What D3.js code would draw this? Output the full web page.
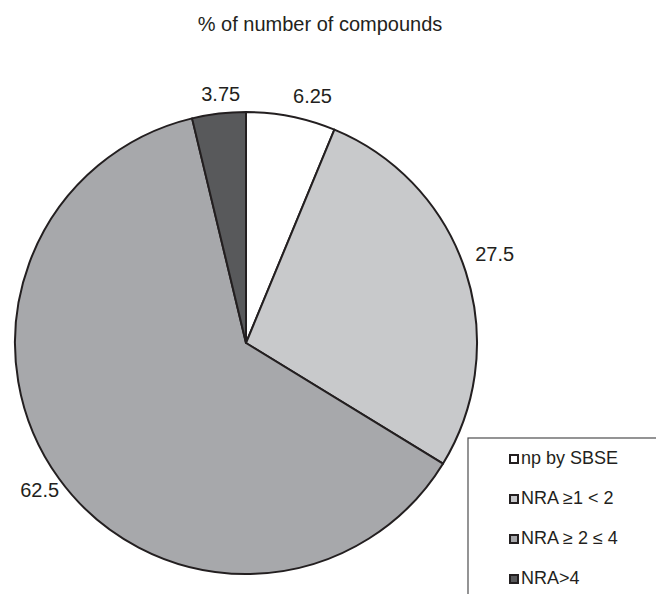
<!DOCTYPE html>
<html>
<head>
<meta charset="utf-8">
<script src="https://cdn.jsdelivr.net/npm/d3@7"></script>
<style>
  html, body { margin: 0; padding: 0; background: #fff; }
  svg { display: block; font-family: "Liberation Sans", Arial, Helvetica, sans-serif; }
</style>
</head>
<body>
<svg id="chart" width="656" height="594"></svg>
<script>
// Share of compounds (%) per NRA class
const categories = ["np by SBSE", "NRA \u22651 < 2", "NRA \u2265 2 \u2264 4", "NRA>4"];
const values = [6.25, 27.5, 62.5, 3.75];
const colors = ["#ffffff", "#c8c9cb", "#a7a8ab", "#58595b"];
const title = "% of number of compounds";

const svg = d3.select("#chart");
const cx = 246, cy = 343, radius = 231;

svg.append("text")
  .attr("x", 320).attr("y", 31)
  .attr("text-anchor", "middle")
  .attr("font-size", 20)
  .attr("fill", "#231f20")
  .text(title);

const pie = d3.pie().sort(null).value(d => d)(values);
const arc = d3.arc().innerRadius(0).outerRadius(radius);

const g = svg.append("g").attr("transform", `translate(${cx},${cy})`);

g.selectAll("path.slice")
  .data(pie)
  .join("path")
  .attr("class", "slice")
  .attr("d", arc)
  .attr("fill", (d, i) => colors[i])
  .attr("stroke", "#231f20")
  .attr("stroke-width", 2)
  .attr("stroke-linejoin", "round");

// value labels just outside the rim, placed by the slice's mid angle
const labelR = radius + 10;
g.selectAll("text.val")
  .data(pie)
  .join("text")
  .attr("class", "val")
  .attr("font-size", 20)
  .attr("fill", "#231f20")
  .each(function (d) {
    const a = (d.startAngle + d.endAngle) / 2;
    const s = Math.sin(a), c = Math.cos(a);
    let anchor = "middle";
    if (s > 0.1) anchor = "start";
    else if (s < -0.5) anchor = "end";
    const x = s * (anchor === "end" ? radius : labelR) + (anchor === "middle" ? 3 : 0);
    const y = -c * labelR;
    const dy = c > 0 ? -(0.1 + 0.3 * Math.abs(s)) : 0.6;
    d3.select(this)
      .attr("x", x).attr("y", y)
      .attr("dy", dy + "em")
      .attr("text-anchor", anchor)
      .text(String(d.data));
  });

// legend box (runs past the right and bottom edges)
const legend = svg.append("g").attr("transform", "translate(468,438)");
legend.append("rect")
  .attr("x", 0).attr("y", 0)
  .attr("width", 400).attr("height", 400)
  .attr("fill", "#fff")
  .attr("stroke", "#4d4d4f")
  .attr("stroke-width", 1.2);

const ly = d3.scaleBand().domain(categories).range([6, 166]);
const items = legend.selectAll("g.item")
  .data(categories)
  .join("g")
  .attr("class", "item")
  .attr("transform", d => `translate(0,${ly(d) + ly.bandwidth() / 2})`);

items.append("rect")
  .attr("x", 42).attr("y", -9)
  .attr("width", 8).attr("height", 8)
  .attr("fill", (d, i) => colors[i])
  .attr("stroke", "#231f20")
  .attr("stroke-width", 2);

items.append("text")
  .attr("x", 53).attr("y", 0)
  .attr("font-size", 18)
  .attr("fill", "#231f20")
  .text(d => d);
</script>
</body>
</html>
